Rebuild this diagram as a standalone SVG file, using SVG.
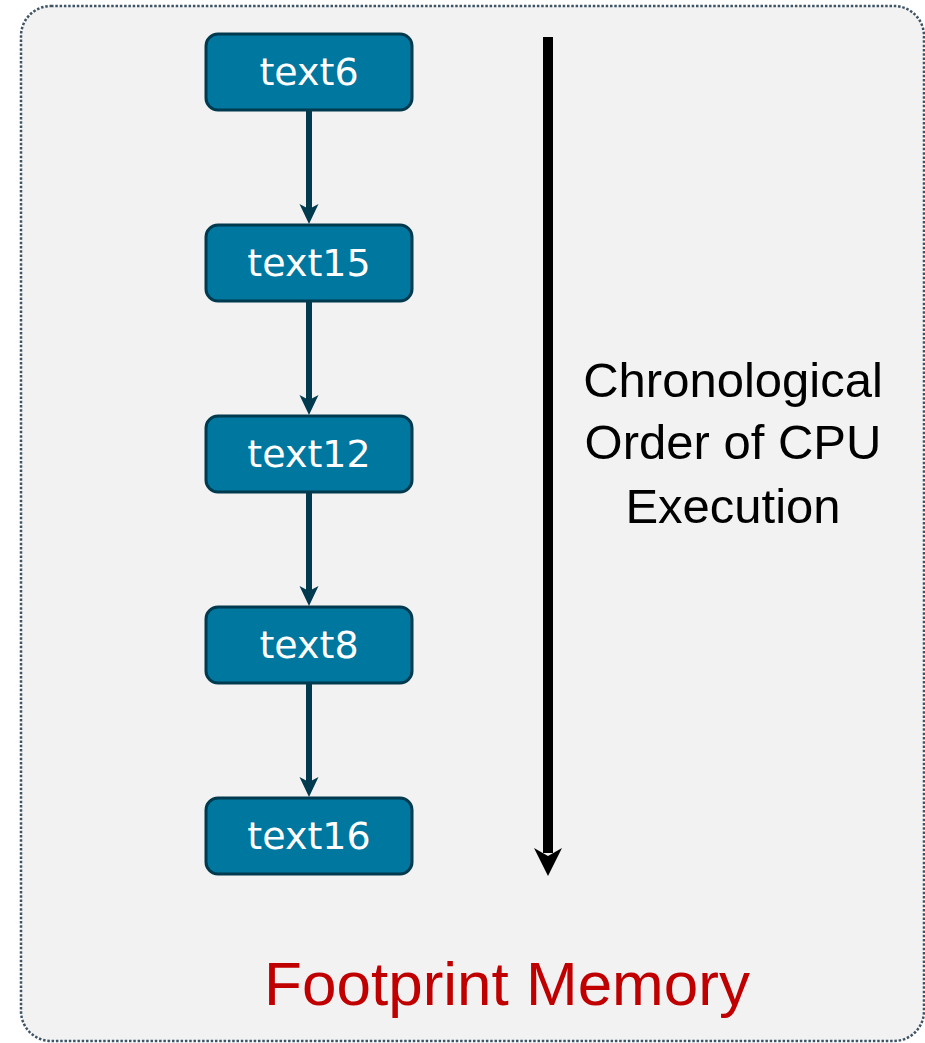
<svg xmlns="http://www.w3.org/2000/svg" width="925" height="1043" viewBox="0 0 925 1043">
  <style>
    .frame { fill: #F2F2F2; stroke: #3E5464; stroke-width: 2.5; stroke-dasharray: 2.5 1.8; }
    .node rect { fill: #00779F; stroke: #003A4F; stroke-width: 3; }
    .node text { fill: #FFFFFF; font-family: "DejaVu Sans", sans-serif; font-size: 38px; text-anchor: middle; }
    .link { stroke: #003A4F; stroke-width: 6; fill: none; }
    .tip { fill: #003A4F; }
    .note { fill: #000000; font-family: "Liberation Sans", Arial, sans-serif; font-size: 49px; text-anchor: middle; }
    .title { fill: #C00000; font-family: "Liberation Sans", Arial, sans-serif; font-size: 62px; text-anchor: middle; }
  </style>
  <defs>
    <!-- arrowhead whose tip sits at the origin, pointing down -->
    <path id="head" d="M-9.5,-20 L0,0 L9.5,-20 L0,-15 Z"/>
  </defs>

  <!-- outer memory frame -->
  <rect class="frame" x="21" y="6" width="903" height="1035" rx="30" ry="30"/>

  <!-- execution-order connectors -->
  <g id="connectors">
    <path class="link" d="M309,111 V212"/>
    <use class="tip" href="#head" x="309" y="224"/>
    <path class="link" d="M309,302 V403"/>
    <use class="tip" href="#head" x="309" y="415"/>
    <path class="link" d="M309,493 V594"/>
    <use class="tip" href="#head" x="309" y="606"/>
    <path class="link" d="M309,684 V785"/>
    <use class="tip" href="#head" x="309" y="797"/>
  </g>

  <g id="node-text6" class="node">
    <rect x="206" y="34" width="206" height="76" rx="12" ry="12"/>
    <text x="309" y="85">text6</text>
  </g>
  <g id="node-text15" class="node">
    <rect x="206" y="225" width="206" height="76" rx="12" ry="12"/>
    <text x="309" y="276">text15</text>
  </g>
  <g id="node-text12" class="node">
    <rect x="206" y="416" width="206" height="76" rx="12" ry="12"/>
    <text x="309" y="467">text12</text>
  </g>
  <g id="node-text8" class="node">
    <rect x="206" y="607" width="206" height="76" rx="12" ry="12"/>
    <text x="309" y="658">text8</text>
  </g>
  <g id="node-text16" class="node">
    <rect x="206" y="798" width="206" height="76" rx="12" ry="12"/>
    <text x="309" y="849">text16</text>
  </g>

  <!-- time axis -->
  <g id="time-axis">
    <rect x="543" y="37" width="10" height="816" fill="#000000"/>
    <path d="M534,848 L548,876 L562,848 L548,856 Z" fill="#000000"/>
  </g>

  <g id="axis-label">
    <text class="note" x="733" y="397">Chronological</text>
    <text class="note" x="733" y="459">Order of CPU</text>
    <text class="note" x="733" y="523">Execution</text>
  </g>

  <text id="frame-title" class="title" x="507" y="1005">Footprint Memory</text>
</svg>
